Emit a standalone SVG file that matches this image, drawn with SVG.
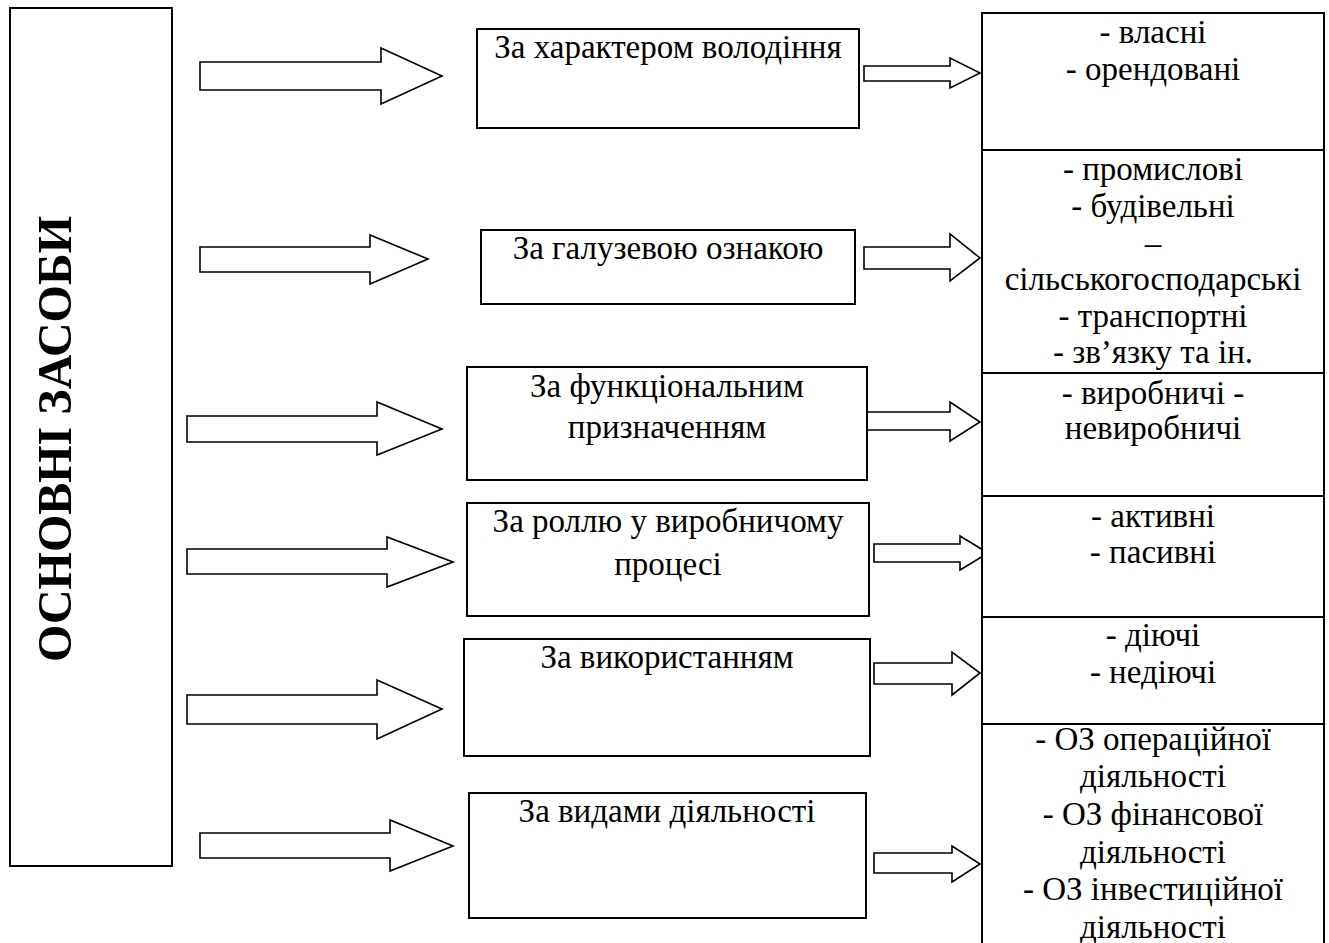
<svg xmlns="http://www.w3.org/2000/svg" width="1329" height="943" viewBox="0 0 1329 943">
<style>
.box{fill:#fff;stroke:#000;stroke-width:2}
.arr{fill:#fff;stroke:#000;stroke-width:1.6;stroke-linejoin:miter}
.t{font-family:"Liberation Serif","Times New Roman",serif;font-size:33px;fill:#000;text-anchor:middle}
.title{font-family:"Liberation Serif","Times New Roman",serif;font-size:49px;font-weight:bold;fill:#000;text-anchor:middle}
</style>
<rect width="1329" height="943" fill="#fff"/>
<g id="main">
<rect class="box" x="10" y="8" width="162" height="858"/>
<text class="title" transform="translate(71,439) rotate(-90)" x="0" y="0" textLength="446" lengthAdjust="spacingAndGlyphs">ОСНОВНІ ЗАСОБИ</text>
</g>
<g id="connectors">
<polygon class="arr" points="200,62 381,62 381,48 442,76 381,104 381,90 200,90"/>
<polygon class="arr" points="200,247 370,247 370,235 428,259 370,284 370,272 200,272"/>
<polygon class="arr" points="187,416 377,416 377,402 442,429 377,455 377,442 187,442"/>
<polygon class="arr" points="187,549 387,549 387,537 453,562 387,587 387,574 187,574"/>
<polygon class="arr" points="187,695 377,695 377,680 442,709 377,739 377,724 187,724"/>
<polygon class="arr" points="200,833 390,833 390,820 453,846 390,871 390,858 200,858"/>
<polygon class="arr" points="864,66 950,66 950,58 980,73 950,88 950,81 864,81"/>
<polygon class="arr" points="864,247 950,247 950,234 980,258 950,281 950,269 864,269"/>
<polygon class="arr" points="864,412 950,412 950,402 980,422 950,441 950,430 864,430"/>
<polygon class="arr" points="874,544 960,544 960,536 988,553 960,570 960,562 874,562"/>
<polygon class="arr" points="874,663 952,663 952,652 980,673 952,695 952,684 874,684"/>
<polygon class="arr" points="874,853 952,853 952,846 980,864 952,882 952,873 874,873"/>
</g>
<g id="c1"><rect class="box" x="477" y="29" width="382" height="99"/><text class="t" x="668" y="58">За характером володіння</text></g>
<g id="c2"><rect class="box" x="481" y="230" width="374" height="74"/><text class="t" x="668" y="259">За галузевою ознакою</text></g>
<g id="c3"><rect class="box" x="467" y="367" width="400" height="113"/><text class="t" x="667" y="397">За функціональним</text><text class="t" x="667" y="438">призначенням</text></g>
<g id="c4"><rect class="box" x="467" y="503" width="402" height="113"/><text class="t" x="668" y="532">За роллю у виробничому</text><text class="t" x="668" y="575">процесі</text></g>
<g id="c5"><rect class="box" x="464" y="639" width="406" height="117"/><text class="t" x="667" y="668">За використанням</text></g>
<g id="c6"><rect class="box" x="469" y="793" width="397" height="125"/><text class="t" x="667" y="822">За видами діяльності</text></g>
<g id="r1"><rect class="box" x="982" y="13" width="342" height="137"/><text class="t" x="1153" y="43">- власні</text><text class="t" x="1153" y="80">- орендовані</text></g>
<g id="r2"><rect class="box" x="982" y="150" width="342" height="223"/><text class="t" x="1153" y="180">- промислові</text><text class="t" x="1153" y="217">- будівельні</text><text class="t" x="1153" y="254">–</text><text class="t" x="1153" y="290">сільськогосподарські</text><text class="t" x="1153" y="327">- транспортні</text><text class="t" x="1153" y="363">- зв’язку та ін.</text></g>
<g id="r3"><rect class="box" x="982" y="373" width="342" height="123"/><text class="t" x="1153" y="404">- виробничі -</text><text class="t" x="1153" y="439">невиробничі</text></g>
<g id="r4"><rect class="box" x="982" y="496" width="342" height="121"/><text class="t" x="1153" y="527">- активні</text><text class="t" x="1153" y="563">- пасивні</text></g>
<g id="r5"><rect class="box" x="982" y="617" width="342" height="107"/><text class="t" x="1153" y="646">- діючі</text><text class="t" x="1153" y="683">- недіючі</text></g>
<g id="r6"><rect class="box" x="982" y="724" width="342" height="240"/><text class="t" x="1153" y="750">- ОЗ операційної</text><text class="t" x="1153" y="787">діяльності</text><text class="t" x="1153" y="825">- ОЗ фінансової</text><text class="t" x="1153" y="863">діяльності</text><text class="t" x="1153" y="900">- ОЗ інвестиційної</text><text class="t" x="1153" y="938">діяльності</text></g>
</svg>
